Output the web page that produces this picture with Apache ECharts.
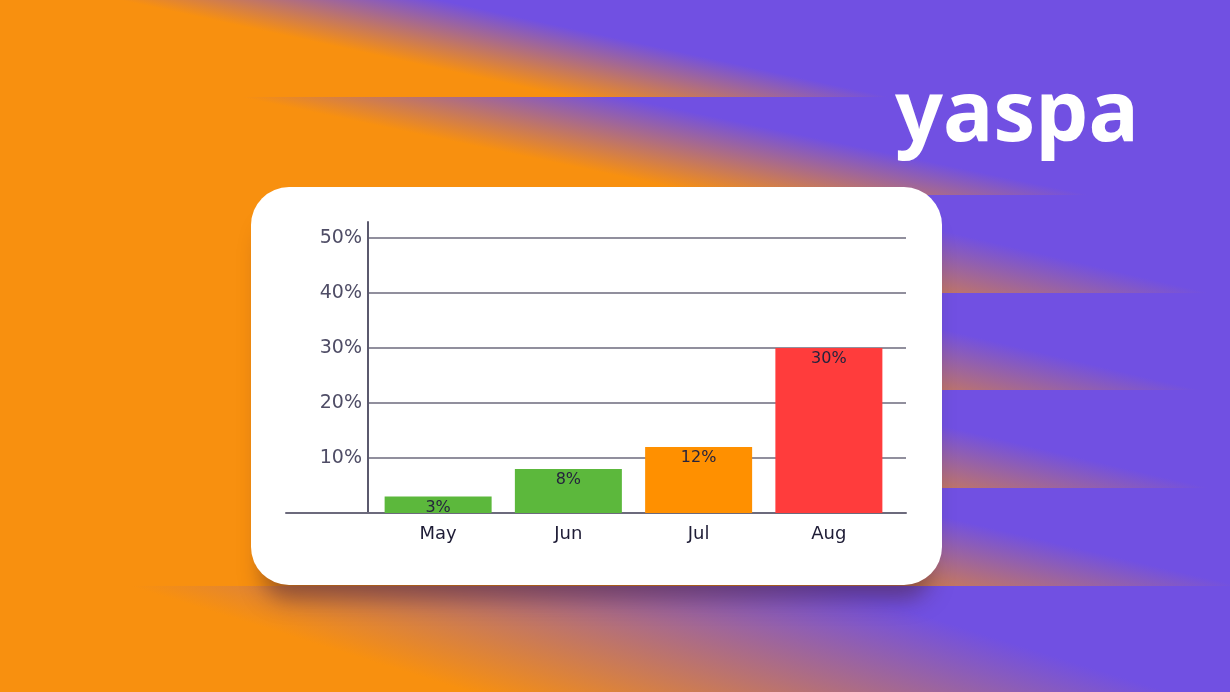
<!DOCTYPE html>
<html lang="en">
<head>
    <meta charset="UTF-8">
    <title>yaspa</title>
    <style>
        html, body {
            margin: 0;
            padding: 0;
            width: 1230px;
            height: 692px;
            overflow: hidden;
            background: #7150e2;
        }

        .band {
            position: absolute;
            left: 0;
            width: 1230px;
        }

        #card {
            position: absolute;
            left: 251px;
            top: 187px;
            width: 691px;
            height: 398px;
            background: #fff;
            border-radius: 38px;
            box-shadow: 0 26px 22px -12px rgba(70, 30, 45, 0.5);
        }

        #logo {
            position: absolute;
            left: 895px;
            top: 67px;
            font-family: "Noto Sans", sans-serif;
            font-weight: 700;
            font-size: 84px;
            line-height: 1;
            color: #fff;
            letter-spacing: 0px;
        }

        #chart {
            position: absolute;
            left: 0;
            top: 0;
            width: 1230px;
            height: 692px;
        }
    </style>
</head>
<body>
<div id="bg"></div>
<div id="logo">yaspa</div>
<div id="card"></div>
<div id="chart"></div>
<script src="https://cdn.jsdelivr.net/npm/echarts@6/dist/echarts.min.js"></script>
<script>
    var months = ['May', 'Jun', 'Jul', 'Aug'];
    var shares = [3, 8, 12, 30];
    var barColors = ['#5cb83c', '#5cb83c', '#ff9000', '#ff3c3c'];
    var yTicks = [0, 10, 20, 30, 40, 50];

    // background streaks: top, height, blend centre at band top / bottom, blend width
    var bands = [
        [0, 97, 280, 730, 320],
        [97, 98, 430, 900, 380],
        [195, 98, 560, 980, 460],
        [293, 97, 560, 970, 460],
        [390, 98, 560, 980, 460],
        [488, 98, 580, 1000, 480],
        [586, 106, 480, 820, 700]
    ];
    var orange = '#f8900f', purple = '#7150e2';
    var bg = document.getElementById('bg');
    bands.forEach(function (b) {
        var W = 1230, H = b[1];
        var s = (b[3] - b[2]) / H;
        var th = Math.atan2(1, s);
        var sn = Math.sin(th), cs = Math.cos(th);
        var L = W * sn + H * cs;
        var pc = (b[2] - W / 2) * sn + (H / 2) * cs + L / 2;
        var hw = b[4] / 2 * sn;
        var d = document.createElement('div');
        d.className = 'band';
        d.style.top = b[0] + 'px';
        d.style.height = H + 'px';
        d.style.background = 'linear-gradient(' + (th * 180 / Math.PI).toFixed(2) + 'deg, ' +
            orange + ' ' + (pc - hw).toFixed(1) + 'px, ' + purple + ' ' + (pc + hw).toFixed(1) + 'px)';
        bg.appendChild(d);
    });

    var axisGrey = '#6c6a7c';

    var option = {
        animation: false,
        grid: [
            {left: 373, right: 336, top: 238, bottom: 179},
            {left: 368, right: 324, top: 238, bottom: 179},
            {left: 368, right: 324, top: 222, bottom: 179},
            {left: 286, right: 324, top: 222, bottom: 179}
        ],
        xAxis: [
            {
                gridIndex: 0,
                type: 'category',
                data: months,
                axisLine: {show: false},
                axisTick: {show: false},
                axisLabel: {
                    margin: 12,
                    color: '#1e1c36',
                    fontFamily: 'DejaVu Sans',
                    fontSize: 18
                }
            },
            {gridIndex: 1, type: 'value', show: false},
            {gridIndex: 2, type: 'value', show: false},
            {
                gridIndex: 3,
                type: 'value',
                min: 0,
                max: 1,
                axisLine: {onZero: false, lineStyle: {color: axisGrey, width: 2}},
                axisTick: {show: false},
                axisLabel: {show: false},
                splitLine: {show: false}
            }
        ],
        yAxis: [
            {gridIndex: 0, type: 'value', min: 0, max: 50, show: false},
            {
                gridIndex: 1,
                type: 'value',
                min: yTicks[0],
                max: yTicks[yTicks.length - 1],
                interval: 10,
                axisLine: {show: false},
                axisTick: {show: false},
                axisLabel: {
                    margin: 6,
                    color: '#4f4d66',
                    fontFamily: 'DejaVu Sans',
                    fontSize: 19,
                    formatter: function (v) {
                        return v === 0 ? '' : v + '%';
                    }
                },
                splitLine: {lineStyle: {color: axisGrey, width: 1.5}}
            },
            {
                gridIndex: 2,
                type: 'value',
                min: 0,
                max: 1,
                axisLine: {show: true, lineStyle: {color: '#5b596d', width: 2}},
                axisTick: {show: false},
                axisLabel: {show: false},
                splitLine: {show: false}
            },
            {gridIndex: 3, type: 'value', min: 0, max: 1, show: false}
        ],
        series: [
            {
                type: 'bar',
                xAxisIndex: 0,
                yAxisIndex: 0,
                barWidth: 107,
                data: shares.map(function (v, i) {
                    return {value: v, itemStyle: {color: barColors[i]}};
                }),
                label: {
                    show: true,
                    position: 'insideTop',
                    distance: 3,
                    color: '#25233d',
                    fontFamily: 'DejaVu Sans',
                    fontSize: 16,
                    formatter: '{c}%'
                }
            }
        ]
    };

    var myChart = echarts.init(document.getElementById('chart'));
    myChart.setOption(option);
</script>
</body>
</html>
